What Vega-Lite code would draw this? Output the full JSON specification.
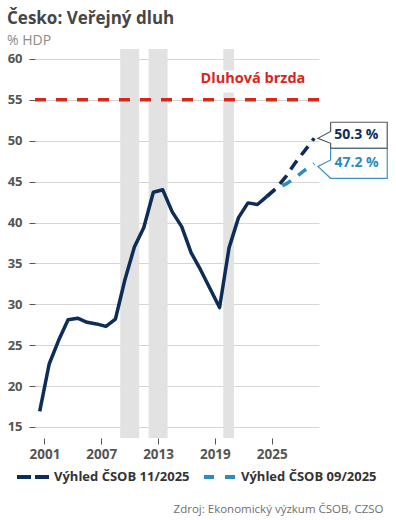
{
  "$schema": "https://vega.github.io/schema/vega-lite/v6.json",
  "width": 284,
  "height": 389,
  "autosize": {"type": "none"},
  "padding": {"left": 35, "top": 49, "right": 77, "bottom": 82},
  "background": "white",
  "config": {"font": "Open Sans", "view": {"stroke": null}},
  "title": {
    "text": "Česko: Veřejný dluh",
    "subtitle": "% HDP",
    "anchor": "start",
    "frame": "group",
    "dx": -28,
    "offset": 0,
    "font": "Open Sans",
    "fontSize": 17,
    "fontWeight": "bold",
    "color": "#464646",
    "subtitleFont": "Open Sans",
    "subtitleFontSize": 14,
    "subtitleColor": "#8c8c8c",
    "subtitlePadding": 6
  },
  "datasets": {
    "recessions": [
      {"start": "2009-01-01", "end": "2011-01-01"},
      {"start": "2012-01-01", "end": "2014-01-01"},
      {"start": "2019-11-20", "end": "2021-01-05"}
    ],
    "labelbg": [
      {"start": "2017-03-01", "end": "2028-11-01", "lo": 55.9, "hi": 58.6}
    ],
    "brake": [
      {"label": "Dluhová brzda", "date": "2023-01-10", "value": 57.55}
    ],
    "history": [
      {"date": "2000-07-01", "debt": 16.9},
      {"date": "2001-07-01", "debt": 22.7},
      {"date": "2002-07-01", "debt": 25.6},
      {"date": "2003-07-01", "debt": 28.1},
      {"date": "2004-07-01", "debt": 28.3},
      {"date": "2005-07-01", "debt": 27.8},
      {"date": "2006-07-01", "debt": 27.6},
      {"date": "2007-07-01", "debt": 27.3},
      {"date": "2008-07-01", "debt": 28.2},
      {"date": "2009-07-01", "debt": 33.0},
      {"date": "2010-07-01", "debt": 37.0},
      {"date": "2011-07-01", "debt": 39.4},
      {"date": "2012-07-01", "debt": 43.7},
      {"date": "2013-07-01", "debt": 44.0},
      {"date": "2014-07-01", "debt": 41.3},
      {"date": "2015-07-01", "debt": 39.5},
      {"date": "2016-07-01", "debt": 36.3},
      {"date": "2017-07-01", "debt": 34.2},
      {"date": "2018-07-01", "debt": 31.9},
      {"date": "2019-07-01", "debt": 29.6},
      {"date": "2020-07-01", "debt": 36.9},
      {"date": "2021-07-01", "debt": 40.6},
      {"date": "2022-07-01", "debt": 42.4},
      {"date": "2023-07-01", "debt": 42.2},
      {"date": "2024-07-01", "debt": 43.2}
    ],
    "forecast": [
      {"series": "Výhled ČSOB 11/2025", "date": "2024-07-01", "debt": 43.2},
      {"series": "Výhled ČSOB 11/2025", "date": "2025-07-01", "debt": 44.2},
      {"series": "Výhled ČSOB 11/2025", "date": "2026-07-01", "debt": 45.6},
      {"series": "Výhled ČSOB 11/2025", "date": "2027-07-01", "debt": 47.3},
      {"series": "Výhled ČSOB 11/2025", "date": "2028-07-01", "debt": 48.8},
      {"series": "Výhled ČSOB 11/2025", "date": "2029-07-01", "debt": 50.3},
      {"series": "Výhled ČSOB 09/2025", "date": "2024-07-01", "debt": 43.2},
      {"series": "Výhled ČSOB 09/2025", "date": "2025-07-01", "debt": 44.2},
      {"series": "Výhled ČSOB 09/2025", "date": "2026-07-01", "debt": 44.7},
      {"series": "Výhled ČSOB 09/2025", "date": "2027-07-01", "debt": 45.5},
      {"series": "Výhled ČSOB 09/2025", "date": "2028-07-01", "debt": 46.4},
      {"series": "Výhled ČSOB 09/2025", "date": "2029-07-01", "debt": 47.2}
    ],
    "box11": [
      {"date": "2031-03-25", "value": 52.26, "i": 1},
      {"date": "2037-03-17", "value": 52.26, "i": 2},
      {"date": "2037-03-17", "value": 49.08, "i": 3},
      {"date": "2031-03-25", "value": 49.08, "i": 4},
      {"date": "2031-03-25", "value": 49.69, "i": 5},
      {"date": "2029-11-20", "value": 50.3, "i": 6},
      {"date": "2031-03-25", "value": 51.13, "i": 7},
      {"date": "2031-03-25", "value": 52.26, "i": 8}
    ],
    "box09": [
      {"date": "2031-03-25", "value": 49.08, "i": 1},
      {"date": "2037-03-17", "value": 49.08, "i": 2},
      {"date": "2037-03-17", "value": 45.41, "i": 3},
      {"date": "2031-03-25", "value": 45.41, "i": 4},
      {"date": "2029-11-20", "value": 46.85, "i": 5},
      {"date": "2031-03-25", "value": 47.65, "i": 6},
      {"date": "2031-03-25", "value": 49.08, "i": 7}
    ],
    "label11": [{"text": "50.3 %", "date": "2033-12-10", "value": 50.67}],
    "label09": [{"text": "47.2 %", "date": "2033-12-20", "value": 47.25}]
  },
  "layer": [
    {
      "data": {"name": "recessions"},
      "mark": {"type": "rect", "color": "#e2e2e2"},
      "encoding": {
        "x": {
          "field": "start",
          "type": "temporal",
          "scale": {"domain": [{"year": 2000}, {"year": 2030}]},
          "axis": {
            "orient": "bottom",
            "values": [{"year": 2001}, {"year": 2004}, {"year": 2007}, {"year": 2010}, {"year": 2013}, {"year": 2016}, {"year": 2019}, {"year": 2022}, {"year": 2025}, {"year": 2028}],
            "labelExpr": "(year(datum.value) - 2001) % 6 === 0 ? timeFormat(datum.value, '%Y') : ''",
            "grid": false,
            "domain": false,
            "tickSize": 6,
            "tickColor": "#555555",
            "labelFont": "Open Sans",
            "labelFontSize": 13.5,
            "labelFontWeight": "bold",
            "labelColor": "#555555",
            "labelPadding": 3,
            "labelFlush": false,
            "labelOverlap": false,
            "title": "Zdroj: Ekonomický výzkum ČSOB, CZSO",
            "titleFont": "Open Sans",
            "titleFontSize": 11.5,
            "titleFontWeight": "normal",
            "titleColor": "#707070",
            "titleAlign": "right",
            "titleAnchor": "end",
            "titleBaseline": "alphabetic",
            "titleX": 348,
            "titleY": 74
          }
        },
        "x2": {"field": "end"}
      }
    },
    {
      "data": {"name": "labelbg"},
      "mark": {"type": "rect", "color": "white"},
      "encoding": {
        "x": {"field": "start", "type": "temporal"},
        "x2": {"field": "end"},
        "y": {
          "field": "lo",
          "type": "quantitative",
          "scale": {"domain": [13.65, 61.22], "nice": false, "zero": false},
          "axis": {
            "values": [15, 20, 25, 30, 35, 40, 45, 50, 55, 60],
            "domain": false,
            "grid": true,
            "gridColor": "#d6d6d6",
            "gridWidth": 1,
            "tickSize": 6,
            "tickColor": "#555555",
            "labelFont": "Open Sans",
            "labelFontSize": 13,
            "labelFontWeight": "bold",
            "labelColor": "#555555",
            "labelPadding": 7,
            "title": null
          }
        },
        "y2": {"field": "hi"}
      }
    },
    {
      "data": {"name": "brake"},
      "mark": {"type": "rule", "color": "#d8261c", "strokeWidth": 3.5, "strokeDash": [11, 10]},
      "encoding": {"y": {"datum": 55, "type": "quantitative"}}
    },
    {
      "data": {"name": "brake"},
      "mark": {"type": "text", "color": "#d8261c", "font": "Open Sans", "fontSize": 14.5, "fontWeight": "bold", "align": "center", "baseline": "middle"},
      "encoding": {
        "x": {"field": "date", "type": "temporal"},
        "y": {"field": "value", "type": "quantitative"},
        "text": {"field": "label"}
      }
    },
    {
      "data": {"name": "forecast"},
      "transform": [{"filter": "datum.series === 'Výhled ČSOB 09/2025'"}],
      "mark": {"type": "line", "strokeWidth": 3.5, "strokeDash": [10, 9], "strokeCap": "butt"},
      "encoding": {
        "x": {"field": "date", "type": "temporal"},
        "y": {"field": "debt", "type": "quantitative"},
        "color": {
          "field": "series",
          "type": "nominal",
          "scale": {"domain": ["Výhled ČSOB 11/2025", "Výhled ČSOB 09/2025"], "range": ["#0e2c58", "#2b8cc0"]},
          "legend": {
            "orient": "none",
            "legendX": -20,
            "legendY": 410,
            "direction": "horizontal",
            "title": null,
            "symbolType": "stroke",
            "symbolSize": 1024,
            "symbolStrokeWidth": 4,
            "symbolDash": [10, 11],
            "labelFont": "Open Sans",
            "labelFontSize": 13,
            "labelFontWeight": "bold",
            "labelColor": "#333333",
            "labelOffset": 3,
            "columnPadding": 6,
            "encode": {
              "symbols": {
                "update": {
                  "strokeDash": {"signal": "datum.value === 'Výhled ČSOB 11/2025' ? [14, 4] : [10, 11]"}
                }
              }
            }
          }
        }
      }
    },
    {
      "data": {"name": "forecast"},
      "transform": [{"filter": "datum.series === 'Výhled ČSOB 11/2025'"}],
      "mark": {"type": "line", "strokeWidth": 3.5, "strokeDash": [11, 7], "strokeCap": "butt"},
      "encoding": {
        "x": {"field": "date", "type": "temporal"},
        "y": {"field": "debt", "type": "quantitative"},
        "color": {"field": "series", "type": "nominal"}
      }
    },
    {
      "data": {"name": "history"},
      "mark": {"type": "line", "color": "#0e2c58", "strokeWidth": 3.5, "strokeJoin": "round"},
      "encoding": {
        "x": {"field": "date", "type": "temporal"},
        "y": {"field": "debt", "type": "quantitative"}
      }
    },
    {
      "data": {"name": "box09"},
      "mark": {"type": "line", "color": "#3b93c3", "strokeWidth": 1.2, "strokeJoin": "miter"},
      "encoding": {
        "x": {"field": "date", "type": "temporal"},
        "y": {"field": "value", "type": "quantitative"},
        "order": {"field": "i", "type": "quantitative"}
      }
    },
    {
      "data": {"name": "box11"},
      "mark": {"type": "line", "color": "#505a64", "strokeWidth": 1.2, "strokeJoin": "miter"},
      "encoding": {
        "x": {"field": "date", "type": "temporal"},
        "y": {"field": "value", "type": "quantitative"},
        "order": {"field": "i", "type": "quantitative"}
      }
    },
    {
      "data": {"name": "label11"},
      "mark": {"type": "text", "color": "#0e2c58", "font": "Open Sans", "fontSize": 14, "fontWeight": "bold", "align": "center", "baseline": "middle"},
      "encoding": {
        "x": {"field": "date", "type": "temporal"},
        "y": {"field": "value", "type": "quantitative"},
        "text": {"field": "text"}
      }
    },
    {
      "data": {"name": "label09"},
      "mark": {"type": "text", "color": "#2b8cc0", "font": "Open Sans", "fontSize": 14, "fontWeight": "bold", "align": "center", "baseline": "middle"},
      "encoding": {
        "x": {"field": "date", "type": "temporal"},
        "y": {"field": "value", "type": "quantitative"},
        "text": {"field": "text"}
      }
    }
  ]
}
